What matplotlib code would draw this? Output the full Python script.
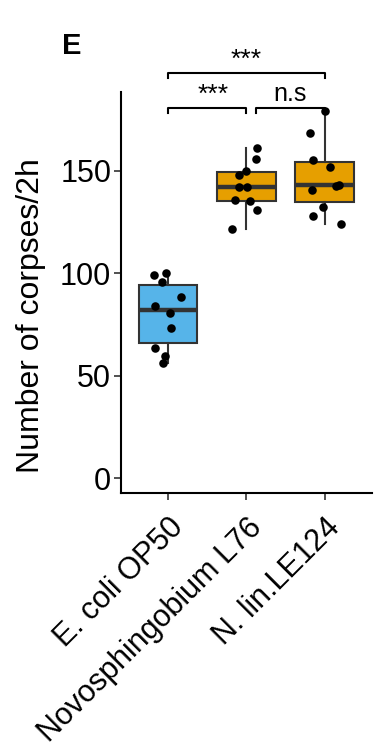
import matplotlib
matplotlib.use("Agg")
import matplotlib.pyplot as plt
import numpy as np

plt.rcParams['font.family'] = ['Liberation Sans', 'DejaVu Sans']

# corpses counted per plate, one list per bacterial diet
groups = ["E. coli OP50", "Novosphingobium L76", "N. lin.LE124"]
ecoli = [99.2, 100.0, 95.9, 88.6, 84.0, 80.4, 73.1, 63.3, 59.6, 56.3]
novo = [161.0, 155.6, 150.1, 148.0, 142.0, 142.0, 135.8, 135.3, 130.9, 121.6]
nlin = [179.0, 168.7, 155.3, 152.1, 140.7, 142.6, 143.1, 132.5, 128.0, 124.1]
# horizontal jitter of each dot (category units)
jit_ecoli = [-0.18, -0.03, -0.08, 0.16, -0.16, 0.02, 0.04, -0.16, -0.04, -0.06]
jit_novo = [0.14, 0.12, -0.01, -0.09, -0.09, 0.01, -0.15, 0.04, 0.13, -0.18]
jit_nlin = [0.0, -0.19, -0.15, 0.07, -0.17, 0.14, 0.18, -0.03, -0.15, 0.2]
colors = ["#56B4E9", "#E69F00", "#E69F00"]

# significance brackets: (x start, x end, height, label, label x)
brackets = [
    (1.0, 2.0, 180.6, "***", 1.57),
    (2.12, 3.0, 180.6, "n.s", 2.56),
    (1.0, 3.0, 197.7, "***", 2.0),
]

data = [ecoli, novo, nlin]
jitters = [jit_ecoli, jit_novo, jit_nlin]
pos = np.arange(1, len(groups) + 1)

fig = plt.figure(figsize=(3.74, 7.44), dpi=100)
ax = fig.add_axes([0.3235, 0.3374, 0.671, 0.539])

edge = "#333333"
bp = ax.boxplot(data, positions=pos, widths=0.75, patch_artist=True,
                showcaps=False, showfliers=False, whis=1.5,
                boxprops=dict(edgecolor=edge, linewidth=1.5),
                whiskerprops=dict(color=edge, linewidth=1.5),
                medianprops=dict(color=edge, linewidth=3.2))
for patch, c in zip(bp['boxes'], colors):
    patch.set_facecolor(c)

for p, vals, jit in zip(pos, data, jitters):
    ax.scatter(p + np.array(jit), vals, s=38, color="black", zorder=5, linewidths=0)

for x1, x2, y, lab, tx in brackets:
    ax.plot([x1, x1, x2, x2], [y - 2.6, y, y, y - 2.6], color="black",
            linewidth=1.5, clip_on=False)
    if lab == "n.s":
        ax.text(tx, y + 0.8, lab, ha="center", va="bottom", fontsize=18,
                clip_on=False)
    else:
        ax.text(tx, y + 0.4, lab, ha="center", va="bottom", fontsize=19,
                clip_on=False)

ax.set_xlim(0.4, 3.6)
ax.set_ylim(-7.3, 188.5)
ax.set_yticks([0, 50, 100, 150])
ax.set_xticks(pos)
ax.set_xticklabels(groups, rotation=45, ha="right", va="top",
                   rotation_mode="anchor", fontsize=22)
ax.tick_params(axis="y", labelsize=22, length=5, width=1.2, color=edge, pad=2)
ax.tick_params(axis="x", length=5, width=1.2, color=edge, pad=9)
ax.set_ylabel("Number of corpses/2h", fontsize=23)
ax.yaxis.set_label_coords(-0.30, 0.443)

for s in ["top", "right"]:
    ax.spines[s].set_visible(False)
for s in ["left", "bottom"]:
    ax.spines[s].set_linewidth(1.5)

fig.text(0.166, 0.927, "E", fontsize=21, fontweight="bold", ha="left",
         va="baseline")

fig.savefig("out.png", dpi=100)
